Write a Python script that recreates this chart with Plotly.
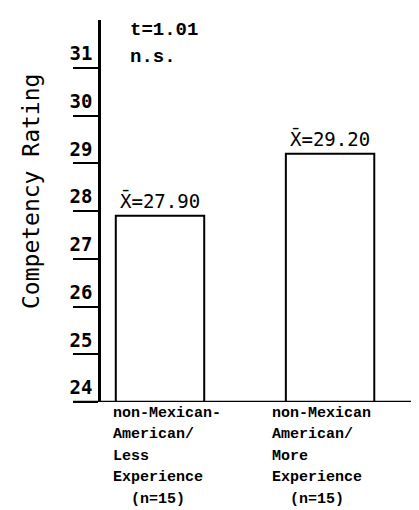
import plotly.graph_objects as go

# ---- data ----
cat_lines = [["non-Mexican-", "American/", "Less", "Experience", "\u00a0\u00a0(n=15)"],
             ["non-Mexican", "American/", "More", "Experience", "\u00a0\u00a0(n=15)"]]
means = [27.90, 29.20]
mean_labels = ["X\u0304=27.90", "X\u0304=29.20"]
y_ticks = [24, 25, 26, 27, 28, 29, 30, 31]
y_title = "Competency Rating"
stat_lines = ["t=1.01", "n.s."]

W, H = 419, 510
ML, MR, MT, MB = 93, 0, 12, 116
y_min, y_max = 24, 32
x_range = [-0.347, 1.57]
PW, PH = W - ML - MR, H - MT - MB

mono = "Liberation Mono"
sans_mono = "DejaVu Sans Mono"

fig = go.Figure()
xs = list(range(len(means)))
fig.add_trace(go.Bar(
    x=xs, y=[m - y_min for m in means], base=y_min, width=0.52,
    marker=dict(color="white", line=dict(color="black", width=2)),
    hoverinfo="skip", showlegend=False,
))

annotations = []
# mean labels above bars
for i, (m, lab) in enumerate(zip(means, mean_labels)):
    annotations.append(dict(x=i, y=m, xref="x", yref="y", text=lab, showarrow=False,
                            xanchor="center", yanchor="bottom", yshift=2,
                            font=dict(family=sans_mono, size=19, color="black")))

# category labels below axis
label_xshift = [-49, -60]
for i, lines in enumerate(cat_lines):
    for j, line in enumerate(lines):
        annotations.append(dict(x=i, y=0, xref="x", yref="paper", text=line,
                                showarrow=False, xanchor="left", yanchor="middle",
                                xshift=label_xshift[i], yshift=-11 - 21.5 * j,
                                font=dict(family=mono, size=15, color="black", weight="bold")))

# statistic text
for j, line in enumerate(stat_lines):
    annotations.append(dict(x=(120 - ML) / PW, y=1, xref="paper", yref="paper",
                            text=line, showarrow=False, xanchor="left", yanchor="middle",
                            yshift=-10 - 27 * j,
                            font=dict(family=mono, size=19, color="black", weight="bold")))

# y-axis title
annotations.append(dict(x=(23 - ML) / PW, y=(H - MB - 184) / PH,
                        xref="paper", yref="paper", text=y_title, textangle=-90,
                        showarrow=False, xanchor="center", yanchor="middle",
                        font=dict(family=sans_mono, size=23, color="black")))

fig.update_layout(
    width=W, height=H,
    margin=dict(l=ML, r=MR, t=MT, b=MB, pad=0, autoexpand=False),
    plot_bgcolor="white", paper_bgcolor="white",
    annotations=annotations,
    xaxis=dict(range=x_range, showgrid=False, zeroline=False, showline=False,
               showticklabels=False, ticks="", automargin=False),
    yaxis=dict(range=[y_min, y_max], showgrid=False, zeroline=False, automargin=False,
               showline=True, linecolor="black", linewidth=2.5,
               tickmode="array", tickvals=y_ticks, ticktext=[str(t) for t in y_ticks],
               ticks="outside", ticklen=25, tickwidth=2, tickcolor="black",
               ticklabelposition="outside top", ticklabelstandoff=2,
               tickfont=dict(family=sans_mono, size=19, color="black", weight="bold")),
    shapes=[dict(type="line", xref="paper", yref="y",
                 x0=(65 - ML) / PW, x1=1, y0=y_min, y1=y_min,
                 line=dict(color="black", width=2.5))],
)

fig.write_html("out.html")
